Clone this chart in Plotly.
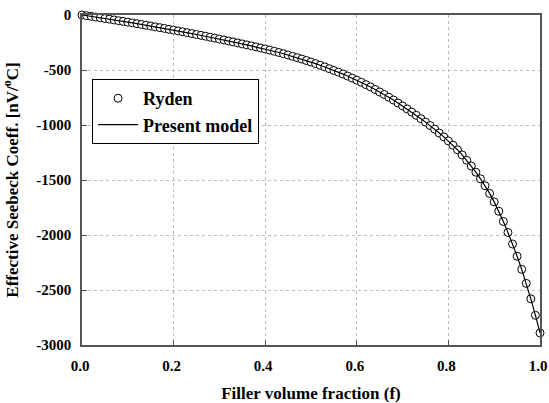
import plotly.graph_objects as go

f_vals = [i / 100 for i in range(101)]
seebeck = [
    0, -6, -12, -19, -25, -32, -38, -45, -52, -58,
    -65, -72, -79, -86, -93, -100, -108, -115, -122, -130,
    -137, -145, -153, -161, -169, -177, -185, -193, -202, -210,
    -219, -227, -236, -245, -254, -263, -272, -281, -290, -300,
    -309, -319, -330, -341, -352, -364, -376, -388, -401, -414,
    -428, -442, -457, -472, -488, -504, -520, -537, -555, -574,
    -593, -612, -633, -654, -677, -700, -723, -748, -773, -800,
    -827, -854, -883, -912, -943, -974, -1005, -1038, -1073, -1108,
    -1145, -1184, -1226, -1272, -1321, -1373, -1429, -1489, -1552, -1622,
    -1699, -1784, -1877, -1977, -2082, -2193, -2312, -2440, -2580, -2730,
    -2890,
]

x_ticks = [0.0, 0.2, 0.4, 0.6, 0.8, 1.0]
x_tick_labels = ["0.0", "0.2", "0.4", "0.6", "0.8", "1.0"]
y_ticks = [0, -500, -1000, -1500, -2000, -2500, -3000]
y_tick_labels = ["0", "-500", "-1000", "-1500", "-2000", "-2500", "-3000"]

FONT = "Liberation Serif, Times New Roman, serif"

fig = go.Figure()
fig.add_trace(go.Scatter(
    x=f_vals, y=seebeck, mode="markers", name="<b>Ryden</b>",
    marker=dict(symbol="circle", size=8, color="white",
                line=dict(color="black", width=1)),
    cliponaxis=False,
))
fig.add_trace(go.Scatter(
    x=f_vals, y=seebeck, mode="lines", name="<b>Present model</b>",
    line=dict(color="black", width=1.2),
    cliponaxis=False,
))

axis_common = dict(
    showline=True, linecolor="#555555", linewidth=1.5, mirror=True,
    ticks="inside", ticklen=5, tickcolor="#555555",
    showgrid=True, gridcolor="#bdbdbd", griddash="dot", gridwidth=1,
    zeroline=False, automargin=False, ticklabeloverflow="allow",
    tickfont=dict(family=FONT, size=15, color="black", weight="bold"),
)

fig.update_xaxes(
    range=[0, 1], tickvals=x_ticks, ticktext=x_tick_labels,
    ticklabelstandoff=6, ticklabelshift=-2,
    title=dict(text="<b>Filler volume fraction (f)</b>",
               font=dict(family=FONT, size=17, color="black")),
    **axis_common,
)
fig.update_yaxes(
    range=[-3000, 0], tickvals=y_ticks, ticktext=y_tick_labels,
    ticklabelstandoff=6,
    title=dict(text="<b>Effective Seebeck Coeff. [nV/<sup>o</sup>C]</b>",
               font=dict(family=FONT, size=17, color="black")),
    **axis_common,
)

fig.update_layout(
    width=549, height=403,
    margin=dict(l=82, r=9, t=15, b=58),
    paper_bgcolor="white", plot_bgcolor="white",
    showlegend=True,
    legend=dict(
        x=0.022, y=0.806, xanchor="left", yanchor="top",
        bgcolor="white", bordercolor="black", borderwidth=1,
        font=dict(family=FONT, size=18, color="black"),
        itemwidth=40, tracegroupgap=0,
    ),
)

# remove the default 8px page margin so the figure fills the window
fig.write_html("out.html", config={"displayModeBar": False},
               post_script="document.body.style.margin='0';")
